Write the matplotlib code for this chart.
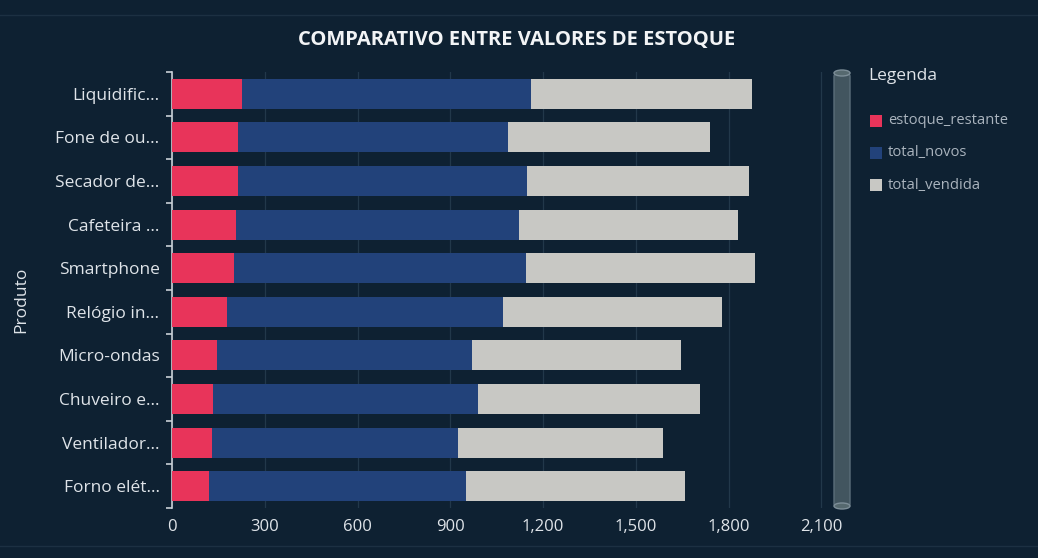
import matplotlib
matplotlib.use("Agg")
import matplotlib.pyplot as plt
import numpy as np
from matplotlib.patches import FancyBboxPatch, Rectangle, Ellipse
from matplotlib.ticker import FuncFormatter, FixedLocator

produtos = ["Liquidific...", "Fone de ou...", "Secador de...", "Cafeteira ...", "Smartphone",
            "Relógio in...", "Micro-ondas", "Chuveiro e...", "Ventilador...", "Forno elét..."]
estoque_restante = [225, 214, 214, 207, 202, 178, 147, 132, 129, 119]
total_novos = [937, 871, 934, 916, 944, 892, 824, 856, 795, 831]
total_vendida = [712, 656, 718, 707, 738, 710, 676, 719, 663, 708]
series_names = ["estoque_restante", "total_novos", "total_vendida"]
x_ticks = [0, 300, 600, 900, 1200, 1500, 1800, 2100]

BG = "#0e2132"
colors = ["#e8345a", "#22427a", "#c8c8c4"]
TXT = "#dfe4e9"

plt.rcParams['font.family'] = ['Open Sans', 'DejaVu Sans']

fig = plt.figure(figsize=(10.38, 5.58), dpi=100, facecolor=BG)
ax = fig.add_axes([172/1038, 1-508/558, 651/1038, 436/558])
ax.set_facecolor(BG)

y = np.arange(len(produtos))
left = np.zeros(len(produtos))
for name, vals, c in zip(series_names, [estoque_restante, total_novos, total_vendida], colors):
    ax.barh(y, vals, left=left, height=0.69, color=c, label=name, zorder=3)
    left = left + np.array(vals)

ax.set_ylim(len(produtos) - 0.5, -0.5)
ax.set_xlim(0, 2105)
ax.set_yticks(y)
ax.set_yticklabels(produtos)
ax.yaxis.set_minor_locator(FixedLocator(np.arange(-0.5, len(produtos), 1.0)))
ax.set_xticks(x_ticks)
ax.xaxis.set_major_formatter(FuncFormatter(lambda v, p: f"{int(v):,}"))

for s in ["top", "right", "bottom"]:
    ax.spines[s].set_visible(False)
ax.spines["left"].set_color("#c9d0d6")
ax.spines["left"].set_linewidth(1.2)

ax.tick_params(axis="y", which="major", length=0, pad=9, labelsize=12.5, labelcolor=TXT)
ax.tick_params(axis="y", which="minor", length=4, width=1.2, color="#c9d0d6")
ax.tick_params(axis="x", length=0, pad=8, labelsize=12, labelcolor=TXT)
ax.grid(axis="x", color="#22384a", linewidth=0.9, zorder=0)

ax.set_ylabel("Produto", color=TXT, fontsize=12.5)
ax.yaxis.set_label_coords(-0.219, 0.477)

fig.text(517/1038, 1-40/558, "COMPARATIVO ENTRE VALORES DE ESTOQUE", ha="center", va="center",
         color="#f2f4f6", fontsize=14.5, fontweight="bold")

# decorative container lines
fig.add_artist(plt.Line2D([0, 1], [1-15/558, 1-15/558], color="#1c3042", lw=1))
fig.add_artist(plt.Line2D([0, 1], [1-546/558, 1-546/558], color="#1c3042", lw=1))

# vertical slider
fig.add_artist(FancyBboxPatch((834/1038, 1-508/558), 16/1038, 436/558,
                              boxstyle="round,pad=0,rounding_size=0.008",
                              facecolor="#42555f", edgecolor="#5b6e7a", lw=1,
                              transform=fig.transFigure))
fig.add_artist(Ellipse((842/1038, 1-73/558), 16/1038, 6/558, facecolor="#56696f",
                       edgecolor="#7d8e98", lw=1, transform=fig.transFigure))
fig.add_artist(Ellipse((842/1038, 1-506/558), 16/1038, 6/558, facecolor="#56696f",
                       edgecolor="#7d8e98", lw=1, transform=fig.transFigure))

# legend
fig.text(868/1038, 1-76/558, "Legenda", ha="left", va="center", color=TXT, fontsize=12.5)
for i, (name, c) in enumerate(zip(series_names, colors)):
    yy = 121 + 32 * i
    fig.add_artist(Rectangle((870/1038, 1-(yy+6)/558), 12/1038, 12/558, facecolor=c,
                             edgecolor="none", transform=fig.transFigure))
    fig.text(888/1038, 1-yy/558, name, ha="left", va="center", color="#aab4be", fontsize=10.6)

fig.savefig("out.png", dpi=100, facecolor=BG)
